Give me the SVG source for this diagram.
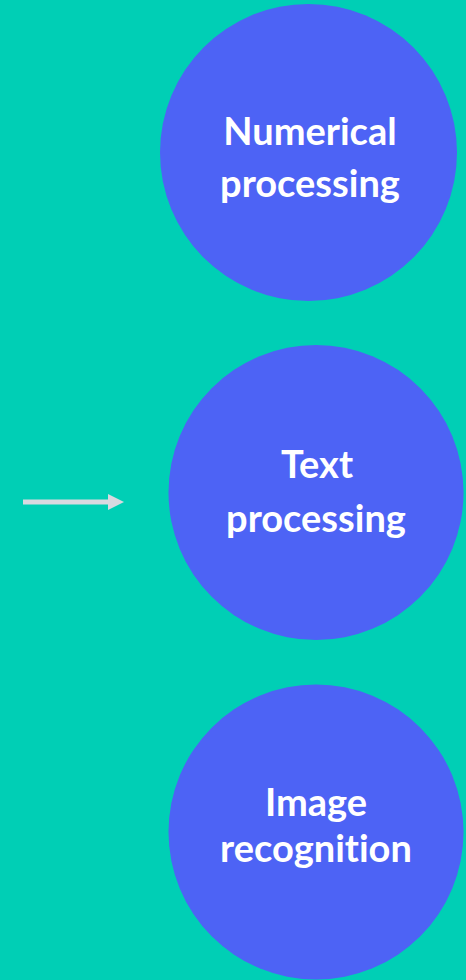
<svg xmlns="http://www.w3.org/2000/svg" width="466" height="980" viewBox="0 0 466 980">
<style>
.node{fill:#4D63F5}
.lbl{font-family:Lato,"Open Sans","Liberation Sans",sans-serif;font-weight:bold;font-size:38px;fill:#FFFFFF;text-anchor:middle;font-variant-ligatures:none;font-feature-settings:"liga" 0,"clig" 0}
.conn{stroke:#D9D9E0;stroke-width:5;fill:none}
</style>
<defs>
<marker id="ah" markerUnits="userSpaceOnUse" markerWidth="16" markerHeight="16" refX="0" refY="8" orient="auto">
<path d="M0,0 L16,8 L0,16 Z" fill="#D9D9E0"/>
</marker>
</defs>
<rect width="466" height="980" fill="#00CFB5"/>
<g id="connectors">
<line class="conn" x1="23" y1="502" x2="108" y2="502" marker-end="url(#ah)"/>
</g>
<g id="numerical">
<circle class="node" cx="308.5" cy="152.5" r="148.5"/>
<text class="lbl" x="310" y="145">Numerical</text>
<text class="lbl" x="310" y="197">processing</text>
</g>
<g id="text-processing">
<circle class="node" cx="316" cy="492.5" r="147.5"/>
<text class="lbl" x="317" y="478">Text</text>
<text class="lbl" x="316" y="532">processing</text>
</g>
<g id="image-recognition">
<circle class="node" cx="316" cy="832" r="147.5"/>
<text class="lbl" x="316" y="816">Image</text>
<text class="lbl" x="316" y="862">recognition</text>
</g>
</svg>
